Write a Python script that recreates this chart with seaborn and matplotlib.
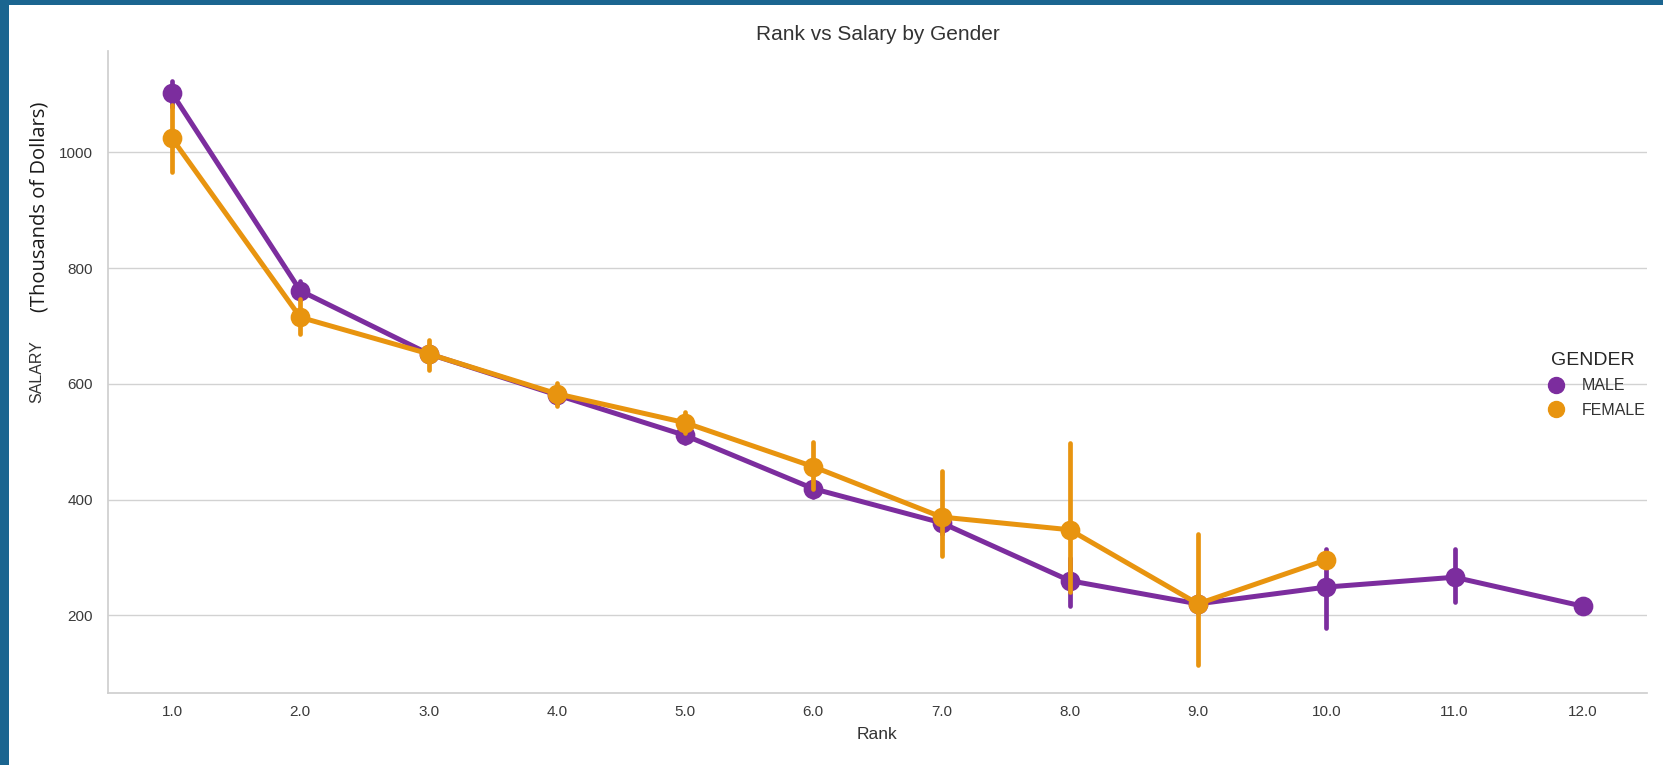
import matplotlib
matplotlib.use("Agg")
import matplotlib.pyplot as plt
from matplotlib.lines import Line2D
from matplotlib.patches import Rectangle
import seaborn as sns
import pandas as pd


# Values (salary in thousands of dollars)
ranks = ["1.0", "2.0", "3.0", "4.0", "5.0", "6.0", "7.0", "8.0", "9.0", "10.0", "11.0", "12.0"]

male_salary = [1102, 761, 652, 581, 511, 419, 360, 260, 220, 249, 266, 216]
male_ci_low = [1078, 745, 638, 565, 498, 405, 340, 216, 205, 178, 224, 216]
male_ci_high = [1124, 777, 666, 597, 525, 433, 380, 300, 235, 315, 314, 216]

female_salary = [1024, 715, 652, 583, 533, 457, 370, 348, 220, 296]
female_ci_low = [966, 686, 624, 562, 515, 418, 303, 240, 115, 296]
female_ci_high = [1082, 746, 676, 601, 552, 500, 450, 498, 341, 296]

genders = ["MALE", "FEMALE"]
colors = {"MALE": "#7c2d9e", "FEMALE": "#e8940f"}


def _long_frame():
    # three rows per point (low, estimate, high): median gives the point,
    # the 100% percentile interval gives the error bar
    rows = []
    series = {
        "MALE": (male_salary, male_ci_low, male_ci_high),
        "FEMALE": (female_salary, female_ci_low, female_ci_high),
    }
    for g in genders:
        mid, lo, hi = series[g]
        for rank, m, l, h in zip(ranks, mid, lo, hi):
            for v in (l, m, h):
                rows.append({"Rank": rank, "SALARY": v, "GENDER": g})
    return pd.DataFrame(rows)


df = _long_frame()

sns.set_theme(style="whitegrid")
plt.rcParams["font.family"] = ["Liberation Sans", "DejaVu Sans"]

fig = plt.figure(figsize=(16.63, 7.65), dpi=100)
fig.patch.set_facecolor("#1b6590")
# white slide area
fig.patches.append(Rectangle((9 / 1663, 0), 1, 1 - 5 / 765, transform=fig.transFigure,
                             facecolor="white", edgecolor="none", zorder=-5))

ax = fig.add_axes([0.0649, 0.0941, 0.9254, 0.8392])
sns.pointplot(data=df, x="Rank", y="SALARY", hue="GENDER", order=ranks,
              hue_order=genders, palette=colors, estimator="median",
              errorbar=("pi", 100), markersize=11.5, linewidth=3.6,
              err_kws={"linewidth": 3.4}, legend=False, ax=ax)

ax.set_xlim(-0.5, len(ranks) - 0.5)
ax.set_ylim(66, 1175)
ax.set_yticks([200, 400, 600, 800, 1000])
sns.despine(ax=ax)
for s in ("left", "bottom"):
    ax.spines[s].set_color("#cfcfcf")
ax.grid(axis="y", color="#d2d2d2", linewidth=1)
ax.tick_params(axis="x", labelsize=11, pad=2.5, colors="#3a3a3a")
ax.tick_params(axis="y", labelsize=11, pad=4.8, colors="#3a3a3a")

ax.set_title("Rank vs Salary by Gender", fontsize=15, color="#333333", pad=8)
ax.set_xlabel("Rank", fontsize=12.5, color="#333333", labelpad=6)
ax.set_ylabel("SALARY", fontsize=11.5, color="#333333")
ax.yaxis.set_label_coords(-0.0416, 0.5)

fig.text(40 / 1663, 1 - 207 / 765, "(Thousands of Dollars)", rotation=90,
         ha="center", va="center", fontsize=14.5, color="#1a1a1a",
         family=["Open Sans", "DejaVu Sans"])

handles = [Line2D([], [], marker="o", linestyle="none", markersize=11.5,
                  color=colors[g]) for g in genders]
ax.legend(handles, genders, title="GENDER", frameon=False, loc="center",
          bbox_to_anchor=(0.958, 0.497), bbox_transform=fig.transFigure,
          fontsize=11.5, title_fontsize=14, handletextpad=0.6,
          labelspacing=0.6, labelcolor="#333333")

fig.savefig("out.png", dpi=100, facecolor=fig.get_facecolor())
